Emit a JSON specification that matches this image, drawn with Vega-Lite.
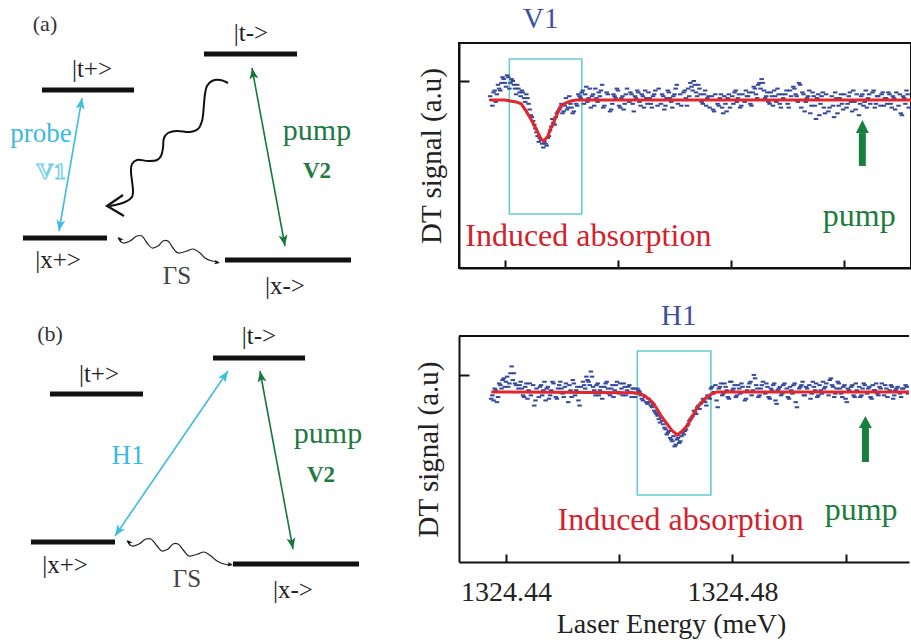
{
  "$schema": "https://vega.github.io/schema/vega-lite/v6.json",
  "padding": {"top": 4, "left": 0, "right": 0, "bottom": 0},
  "background": "white",
  "config": {
    "font": "Liberation Serif, DejaVu Serif, serif",
    "view": {"stroke": null},
    "title": {"fontWeight": "normal", "font": "Liberation Serif, DejaVu Serif, serif"},
    "text": {"font": "Liberation Serif, DejaVu Serif, serif"},
    "axis": {"grid": false, "domainColor": "#111", "domainWidth": 2, "tickColor": "#111", "tickWidth": 2, "labelColor": "#222", "titleColor": "#222", "titleFontWeight": "normal", "labelFont": "Liberation Serif, DejaVu Serif, serif", "titleFont": "Liberation Serif, DejaVu Serif, serif"}
  },
  "datasets": {
    "levels": [
      {"x": 204, "x2": 297, "y": 53}, {"x": 42, "x2": 134, "y": 89}, {"x": 23, "x2": 107, "y": 237}, {"x": 225, "x2": 351, "y": 259},
      {"x": 213, "x2": 305, "y": 357}, {"x": 50, "x2": 143, "y": 393}, {"x": 31, "x2": 115, "y": 541}, {"x": 233, "x2": 359, "y": 563}
    ],
    "shafts": [
      {"kind": "probe", "x": 82, "y": 97, "x2": 59, "y2": 230},
      {"kind": "pump", "x": 252, "y": 67, "x2": 285, "y2": 245},
      {"kind": "probe", "x": 228, "y": 370, "x2": 115, "y2": 535},
      {"kind": "pump", "x": 260, "y": 370, "x2": 293, "y2": 548}
    ],
    "heads": [
      {"kind": "probe", "x": 82, "y": 97, "angle": 9.5},
      {"kind": "probe", "x": 59, "y": 230, "angle": 189.5},
      {"kind": "pump", "x": 252, "y": 67, "angle": -10.4},
      {"kind": "pump", "x": 285, "y": 245, "angle": 169.6},
      {"kind": "probe", "x": 228, "y": 370, "angle": 34.5},
      {"kind": "probe", "x": 115, "y": 535, "angle": 214.5},
      {"kind": "pump", "x": 260, "y": 370, "angle": -10.6},
      {"kind": "pump", "x": 293, "y": 548, "angle": 169.4}
    ],
    "spinHeads": [
      {"x": 220, "y": 262, "angle": 100}, {"x": 118, "y": 236, "angle": -45},
      {"x": 233, "y": 564, "angle": 100}, {"x": 127, "y": 539, "angle": -45}
    ],
    "waves": [
      {"w": "relax", "o": 0, "x": 228, "y": 82}, {"w": "relax", "o": 1, "x": 220, "y": 79}, {"w": "relax", "o": 2, "x": 212, "y": 80},
      {"w": "relax", "o": 3, "x": 207, "y": 85}, {"w": "relax", "o": 4, "x": 205, "y": 93}, {"w": "relax", "o": 5, "x": 204, "y": 103},
      {"w": "relax", "o": 6, "x": 202, "y": 120}, {"w": "relax", "o": 7, "x": 198, "y": 128}, {"w": "relax", "o": 8, "x": 190, "y": 131},
      {"w": "relax", "o": 9, "x": 177, "y": 130}, {"w": "relax", "o": 10, "x": 168, "y": 132}, {"w": "relax", "o": 11, "x": 164, "y": 137},
      {"w": "relax", "o": 12, "x": 163, "y": 147}, {"w": "relax", "o": 13, "x": 161, "y": 155}, {"w": "relax", "o": 14, "x": 157, "y": 159},
      {"w": "relax", "o": 15, "x": 148, "y": 160}, {"w": "relax", "o": 16, "x": 137, "y": 159}, {"w": "relax", "o": 17, "x": 132, "y": 163},
      {"w": "relax", "o": 18, "x": 131, "y": 170}, {"w": "relax", "o": 19, "x": 132, "y": 180}, {"w": "relax", "o": 20, "x": 133, "y": 190},
      {"w": "relax", "o": 21, "x": 132, "y": 196}, {"w": "relax", "o": 22, "x": 125, "y": 201}, {"w": "relax", "o": 23, "x": 110, "y": 205},
      {"w": "spinA", "o": 0, "x": 118, "y": 237}, {"w": "spinA", "o": 1, "x": 123, "y": 242}, {"w": "spinA", "o": 2, "x": 130, "y": 240},
      {"w": "spinA", "o": 3, "x": 137, "y": 235}, {"w": "spinA", "o": 4, "x": 142, "y": 235}, {"w": "spinA", "o": 5, "x": 147, "y": 242},
      {"w": "spinA", "o": 6, "x": 152, "y": 247}, {"w": "spinA", "o": 7, "x": 158, "y": 245}, {"w": "spinA", "o": 8, "x": 163, "y": 240},
      {"w": "spinA", "o": 9, "x": 168, "y": 240}, {"w": "spinA", "o": 10, "x": 173, "y": 247}, {"w": "spinA", "o": 11, "x": 178, "y": 252},
      {"w": "spinA", "o": 12, "x": 187, "y": 250}, {"w": "spinA", "o": 13, "x": 193, "y": 248}, {"w": "spinA", "o": 14, "x": 200, "y": 252},
      {"w": "spinA", "o": 15, "x": 205, "y": 257}, {"w": "spinA", "o": 16, "x": 212, "y": 260}, {"w": "spinA", "o": 17, "x": 218, "y": 261},
      {"w": "spinB", "o": 0, "x": 127, "y": 540}, {"w": "spinB", "o": 1, "x": 132, "y": 545}, {"w": "spinB", "o": 2, "x": 139, "y": 543},
      {"w": "spinB", "o": 3, "x": 146, "y": 538}, {"w": "spinB", "o": 4, "x": 151, "y": 538}, {"w": "spinB", "o": 5, "x": 157, "y": 545},
      {"w": "spinB", "o": 6, "x": 162, "y": 550}, {"w": "spinB", "o": 7, "x": 168, "y": 548}, {"w": "spinB", "o": 8, "x": 173, "y": 543},
      {"w": "spinB", "o": 9, "x": 178, "y": 543}, {"w": "spinB", "o": 10, "x": 184, "y": 550}, {"w": "spinB", "o": 11, "x": 189, "y": 555},
      {"w": "spinB", "o": 12, "x": 198, "y": 553}, {"w": "spinB", "o": 13, "x": 204, "y": 551}, {"w": "spinB", "o": 14, "x": 211, "y": 555},
      {"w": "spinB", "o": 15, "x": 217, "y": 560}, {"w": "spinB", "o": 16, "x": 224, "y": 563}, {"w": "spinB", "o": 17, "x": 231, "y": 564}
    ],
    "relaxHead": [
      {"o": 0, "x": 123, "y": 194}, {"o": 1, "x": 107, "y": 205}, {"o": 2, "x": 124, "y": 215}
    ],
    "kets": [
      {"t": "|t->", "x": 251, "y": 32}, {"t": "|t+>", "x": 92, "y": 68}, {"t": "|x+>", "x": 58, "y": 259}, {"t": "|x->", "x": 285, "y": 285},
      {"t": "|t->", "x": 259, "y": 335}, {"t": "|t+>", "x": 99, "y": 373}, {"t": "|x+>", "x": 65, "y": 564}, {"t": "|x->", "x": 293, "y": 589}
    ],
    "tags": [{"t": "(a)", "x": 45, "y": 23}, {"t": "(b)", "x": 50, "y": 333}],
    "probeText": [{"t": "probe", "x": 41, "y": 133}, {"t": "H1", "x": 128, "y": 455}],
    "pumpText": [{"t": "pump", "x": 317, "y": 130}, {"t": "pump", "x": 328, "y": 433}],
    "v2Text": [{"t": "V2", "x": 317, "y": 170}, {"t": "V2", "x": 321, "y": 474}],
    "v1Text": [{"t": "V1", "x": 51, "y": 171}],
    "gammaText": [{"t": "ΓS", "x": 177, "y": 275}, {"t": "ΓS", "x": 187, "y": 578}],
    "v1": [
      {"e": 1324.4374, "s": 0.2}, {"e": 1324.4378, "s": -0.3}, {"e": 1324.4382, "s": 0.5}, {"e": 1324.4386, "s": 0.3}, {"e": 1324.439, "s": 0.6},
      {"e": 1324.4394, "s": 0.9}, {"e": 1324.4398, "s": 1.1}, {"e": 1324.4402, "s": 0.7}, {"e": 1324.4406, "s": 1.2}, {"e": 1324.441, "s": 0.9},
      {"e": 1324.4414, "s": 1.0}, {"e": 1324.4418, "s": 0.6}, {"e": 1324.4422, "s": 0.8}, {"e": 1324.4426, "s": 0.4}, {"e": 1324.443, "s": 0.5},
      {"e": 1324.4434, "s": 0.1}, {"e": 1324.4438, "s": 0.3}, {"e": 1324.4442, "s": -0.2}, {"e": 1324.4446, "s": -0.8}, {"e": 1324.445, "s": -1.1},
      {"e": 1324.4454, "s": -1.5}, {"e": 1324.4458, "s": -1.9}, {"e": 1324.4462, "s": -2.0}, {"e": 1324.4466, "s": -2.3}, {"e": 1324.447, "s": -2.2},
      {"e": 1324.4474, "s": -2.4}, {"e": 1324.4478, "s": -1.9}, {"e": 1324.4482, "s": -1.4}, {"e": 1324.4486, "s": -1.2}, {"e": 1324.449, "s": -0.9},
      {"e": 1324.4494, "s": -0.6}, {"e": 1324.4498, "s": -0.4}, {"e": 1324.4502, "s": -0.7}, {"e": 1324.4506, "s": -0.3}, {"e": 1324.451, "s": -0.5},
      {"e": 1324.4514, "s": 0.2}, {"e": 1324.4518, "s": -0.4}, {"e": 1324.4522, "s": -0.6}, {"e": 1324.4526, "s": -0.2}, {"e": 1324.453, "s": 0.3},
      {"e": 1324.4534, "s": 0.1}, {"e": 1324.4538, "s": 0.5}, {"e": 1324.4542, "s": 0.3}, {"e": 1324.4546, "s": -0.1}, {"e": 1324.455, "s": 0.6},
      {"e": 1324.4554, "s": 0.2}, {"e": 1324.4558, "s": -0.3}, {"e": 1324.4562, "s": 0.1}, {"e": 1324.4566, "s": 0.4}, {"e": 1324.457, "s": 0.5},
      {"e": 1324.4574, "s": -0.4}, {"e": 1324.4578, "s": 0.0}, {"e": 1324.4582, "s": 0.3}, {"e": 1324.4586, "s": -0.6}, {"e": 1324.459, "s": -0.2},
      {"e": 1324.4594, "s": 0.2}, {"e": 1324.4598, "s": 0.6}, {"e": 1324.4602, "s": -0.3}, {"e": 1324.4606, "s": 0.1}, {"e": 1324.461, "s": -0.5},
      {"e": 1324.4614, "s": 0.3}, {"e": 1324.4618, "s": 0.0}, {"e": 1324.4622, "s": 0.4}, {"e": 1324.4626, "s": -0.2}, {"e": 1324.463, "s": 0.2},
      {"e": 1324.4634, "s": 0.5}, {"e": 1324.4638, "s": -0.1}, {"e": 1324.4642, "s": 0.3}, {"e": 1324.4646, "s": -0.4}, {"e": 1324.465, "s": 0.1},
      {"e": 1324.4654, "s": 0.4}, {"e": 1324.4658, "s": -0.2}, {"e": 1324.4662, "s": 0.2}, {"e": 1324.4666, "s": 0.5}, {"e": 1324.467, "s": -0.3},
      {"e": 1324.4674, "s": 0.0}, {"e": 1324.4678, "s": 0.3}, {"e": 1324.4682, "s": -0.5}, {"e": 1324.4686, "s": 0.1}, {"e": 1324.469, "s": 0.4},
      {"e": 1324.4694, "s": -0.1}, {"e": 1324.4698, "s": 0.2}, {"e": 1324.4702, "s": 0.6}, {"e": 1324.4706, "s": -0.2}, {"e": 1324.471, "s": 0.3},
      {"e": 1324.4714, "s": 0.0}, {"e": 1324.4718, "s": 0.5}, {"e": 1324.4722, "s": -0.3}, {"e": 1324.4726, "s": 0.2}, {"e": 1324.473, "s": 0.7},
      {"e": 1324.4734, "s": 1.0}, {"e": 1324.4738, "s": 0.4}, {"e": 1324.4742, "s": 0.8}, {"e": 1324.4746, "s": 0.3}, {"e": 1324.475, "s": -0.2},
      {"e": 1324.4754, "s": 0.5}, {"e": 1324.4758, "s": 0.1}, {"e": 1324.4762, "s": -0.4}, {"e": 1324.4766, "s": 0.2}, {"e": 1324.477, "s": -0.6},
      {"e": 1324.4774, "s": 0.0}, {"e": 1324.4778, "s": -0.3}, {"e": 1324.4782, "s": 0.3}, {"e": 1324.4786, "s": -0.7}, {"e": 1324.479, "s": -0.2},
      {"e": 1324.4794, "s": 0.1}, {"e": 1324.4798, "s": -0.4}, {"e": 1324.4802, "s": 0.2}, {"e": 1324.4806, "s": 0.4}, {"e": 1324.481, "s": -0.1},
      {"e": 1324.4814, "s": 0.3}, {"e": 1324.4818, "s": -0.3}, {"e": 1324.4822, "s": 0.0}, {"e": 1324.4826, "s": 0.5}, {"e": 1324.483, "s": 0.2},
      {"e": 1324.4834, "s": -0.2}, {"e": 1324.4838, "s": 0.4}, {"e": 1324.4842, "s": 0.6}, {"e": 1324.4846, "s": 0.1}, {"e": 1324.485, "s": 0.9},
      {"e": 1324.4854, "s": 1.1}, {"e": 1324.4858, "s": 0.5}, {"e": 1324.4862, "s": 0.2}, {"e": 1324.4866, "s": -0.1}, {"e": 1324.487, "s": 0.4},
      {"e": 1324.4874, "s": -0.3}, {"e": 1324.4878, "s": 0.2}, {"e": 1324.4882, "s": 0.6}, {"e": 1324.4886, "s": -0.2}, {"e": 1324.489, "s": 0.3},
      {"e": 1324.4894, "s": 0.0}, {"e": 1324.4898, "s": 0.5}, {"e": 1324.4902, "s": -0.4}, {"e": 1324.4906, "s": 0.2}, {"e": 1324.491, "s": 0.7},
      {"e": 1324.4914, "s": 0.3}, {"e": 1324.4918, "s": -0.1}, {"e": 1324.4922, "s": 0.8}, {"e": 1324.4926, "s": 0.4}, {"e": 1324.493, "s": -0.6},
      {"e": 1324.4934, "s": 0.1}, {"e": 1324.4938, "s": 0.5}, {"e": 1324.4942, "s": -0.3}, {"e": 1324.4946, "s": 0.2}, {"e": 1324.495, "s": -1.0},
      {"e": 1324.4954, "s": 0.3}, {"e": 1324.4958, "s": -0.2}, {"e": 1324.4962, "s": 0.4}, {"e": 1324.4966, "s": -0.7}, {"e": 1324.497, "s": 0.0},
      {"e": 1324.4974, "s": -0.4}, {"e": 1324.4978, "s": 0.2}, {"e": 1324.4982, "s": -0.9}, {"e": 1324.4986, "s": 0.1}, {"e": 1324.499, "s": -0.3},
      {"e": 1324.4994, "s": 0.3}, {"e": 1324.4998, "s": -0.5}, {"e": 1324.5002, "s": 0.0}, {"e": 1324.5006, "s": -0.2}, {"e": 1324.501, "s": 0.4},
      {"e": 1324.5014, "s": -0.6}, {"e": 1324.5018, "s": -0.1}, {"e": 1324.5022, "s": 0.3}, {"e": 1324.5026, "s": -0.8}, {"e": 1324.503, "s": 0.2},
      {"e": 1324.5034, "s": -0.3}, {"e": 1324.5038, "s": 0.5}, {"e": 1324.5042, "s": 0.1}, {"e": 1324.5046, "s": -0.2}, {"e": 1324.505, "s": 0.4},
      {"e": 1324.5054, "s": -0.4}, {"e": 1324.5058, "s": 0.2}, {"e": 1324.5062, "s": 0.0}, {"e": 1324.5066, "s": 0.3}, {"e": 1324.507, "s": -0.3},
      {"e": 1324.5074, "s": 0.1}, {"e": 1324.5078, "s": 0.4}, {"e": 1324.5082, "s": -0.2}, {"e": 1324.5086, "s": 0.2}, {"e": 1324.509, "s": -0.5},
      {"e": 1324.5094, "s": 0.0}, {"e": 1324.5098, "s": 0.3}, {"e": 1324.5102, "s": -0.8}, {"e": 1324.5106, "s": 0.1}, {"e": 1324.511, "s": 0.5},
      {"e": 1324.5114, "s": -0.4},
      {"e": 1324.4376, "s": 0.0}, {"e": 1324.438, "s": 0.4}, {"e": 1324.4384, "s": -0.1}, {"e": 1324.4388, "s": 0.8}, {"e": 1324.4392, "s": 0.5},
      {"e": 1324.4396, "s": 1.2}, {"e": 1324.44, "s": 0.9}, {"e": 1324.4404, "s": 1.3}, {"e": 1324.4408, "s": 0.6}, {"e": 1324.4412, "s": 1.1},
      {"e": 1324.4416, "s": 0.8}, {"e": 1324.442, "s": 0.3}, {"e": 1324.4424, "s": 0.6}, {"e": 1324.4428, "s": 0.2}, {"e": 1324.4432, "s": 0.4},
      {"e": 1324.4436, "s": -0.1}, {"e": 1324.444, "s": 0.1}, {"e": 1324.4444, "s": -0.5}, {"e": 1324.4448, "s": -0.9}, {"e": 1324.4452, "s": -1.3},
      {"e": 1324.4456, "s": -1.7}, {"e": 1324.446, "s": -2.2}, {"e": 1324.4464, "s": -2.1}, {"e": 1324.4468, "s": -2.5}, {"e": 1324.4472, "s": -2.3},
      {"e": 1324.4476, "s": -2.0}, {"e": 1324.448, "s": -1.6}, {"e": 1324.4484, "s": -1.0}, {"e": 1324.4488, "s": -1.3}, {"e": 1324.4492, "s": -0.7},
      {"e": 1324.4496, "s": -0.5}, {"e": 1324.45, "s": -0.2}, {"e": 1324.4504, "s": -0.6}, {"e": 1324.4508, "s": 0.1}, {"e": 1324.4512, "s": -0.4},
      {"e": 1324.4516, "s": -0.2}, {"e": 1324.452, "s": -0.7}, {"e": 1324.4524, "s": 0.0}, {"e": 1324.4528, "s": -0.3}, {"e": 1324.4532, "s": 0.2},
      {"e": 1324.4536, "s": 0.4}, {"e": 1324.454, "s": -0.2}, {"e": 1324.4544, "s": 0.7}, {"e": 1324.4548, "s": 0.1}, {"e": 1324.4552, "s": -0.4},
      {"e": 1324.4556, "s": 0.3}, {"e": 1324.456, "s": 0.6}, {"e": 1324.4564, "s": -0.1}, {"e": 1324.4568, "s": 0.2}, {"e": 1324.4572, "s": 0.8},
      {"e": 1324.4576, "s": -0.3}, {"e": 1324.458, "s": 0.4}, {"e": 1324.4584, "s": 0.0}, {"e": 1324.4588, "s": -0.5}, {"e": 1324.4592, "s": 0.3},
      {"e": 1324.4596, "s": 0.1}, {"e": 1324.46, "s": 0.5}, {"e": 1324.4604, "s": -0.4}, {"e": 1324.4608, "s": 0.2}, {"e": 1324.4612, "s": -0.2},
      {"e": 1324.4616, "s": 0.6}, {"e": 1324.462, "s": -0.1}, {"e": 1324.4624, "s": 0.3}, {"e": 1324.4628, "s": -0.6}, {"e": 1324.4632, "s": 0.1},
      {"e": 1324.4636, "s": 0.4}, {"e": 1324.464, "s": -0.3}, {"e": 1324.4644, "s": 0.2}, {"e": 1324.4648, "s": 0.5}, {"e": 1324.4652, "s": -0.2},
      {"e": 1324.4656, "s": 0.1}, {"e": 1324.466, "s": -0.4}, {"e": 1324.4664, "s": 0.3}, {"e": 1324.4668, "s": 0.0}, {"e": 1324.4672, "s": 0.6},
      {"e": 1324.4676, "s": -0.2}, {"e": 1324.468, "s": 0.2}, {"e": 1324.4684, "s": -0.3}, {"e": 1324.4688, "s": 0.5}, {"e": 1324.4692, "s": 0.1},
      {"e": 1324.4696, "s": -0.4}, {"e": 1324.47, "s": 0.3}, {"e": 1324.4704, "s": 0.8}, {"e": 1324.4708, "s": 0.0}, {"e": 1324.4712, "s": -0.3},
      {"e": 1324.4716, "s": 0.4}, {"e": 1324.472, "s": 0.1}, {"e": 1324.4724, "s": 0.6}, {"e": 1324.4728, "s": 0.9}, {"e": 1324.4732, "s": 0.5},
      {"e": 1324.4736, "s": 0.8}, {"e": 1324.474, "s": 0.2}, {"e": 1324.4744, "s": 0.6}, {"e": 1324.4748, "s": -0.1}, {"e": 1324.4752, "s": 0.3},
      {"e": 1324.4756, "s": -0.3}, {"e": 1324.476, "s": 0.2}, {"e": 1324.4764, "s": 0.0}, {"e": 1324.4768, "s": -0.5}, {"e": 1324.4772, "s": 0.3},
      {"e": 1324.4776, "s": -0.2}, {"e": 1324.478, "s": 0.1}, {"e": 1324.4784, "s": -0.4}, {"e": 1324.4788, "s": 0.2}, {"e": 1324.4792, "s": -0.6},
      {"e": 1324.4796, "s": 0.3}, {"e": 1324.48, "s": 0.0}, {"e": 1324.4804, "s": -0.2}, {"e": 1324.4808, "s": 0.5}, {"e": 1324.4812, "s": 0.1},
      {"e": 1324.4816, "s": -0.4}, {"e": 1324.482, "s": 0.3}, {"e": 1324.4824, "s": -0.1}, {"e": 1324.4828, "s": 0.2}, {"e": 1324.4832, "s": 0.4},
      {"e": 1324.4836, "s": -0.3}, {"e": 1324.484, "s": 0.7}, {"e": 1324.4844, "s": 0.3}, {"e": 1324.4848, "s": 0.8}, {"e": 1324.4852, "s": 0.6},
      {"e": 1324.4856, "s": 0.9}, {"e": 1324.486, "s": 0.1}, {"e": 1324.4864, "s": 0.4}, {"e": 1324.4868, "s": -0.2}, {"e": 1324.4872, "s": 0.2},
      {"e": 1324.4876, "s": 0.5}, {"e": 1324.488, "s": -0.1}, {"e": 1324.4884, "s": 0.3}, {"e": 1324.4888, "s": -0.4}, {"e": 1324.4892, "s": 0.1},
      {"e": 1324.4896, "s": 0.3}, {"e": 1324.49, "s": -0.2}, {"e": 1324.4904, "s": 0.5}, {"e": 1324.4908, "s": 0.0}, {"e": 1324.4912, "s": 0.6},
      {"e": 1324.4916, "s": 0.2}, {"e": 1324.492, "s": 0.9}, {"e": 1324.4924, "s": -0.4}, {"e": 1324.4928, "s": 0.3}, {"e": 1324.4932, "s": -0.1},
      {"e": 1324.4936, "s": 0.2}, {"e": 1324.494, "s": -0.7}, {"e": 1324.4944, "s": 0.4}, {"e": 1324.4948, "s": -0.3}, {"e": 1324.4952, "s": 0.1},
      {"e": 1324.4956, "s": -0.8}, {"e": 1324.496, "s": 0.2}, {"e": 1324.4964, "s": -0.4}, {"e": 1324.4968, "s": 0.3}, {"e": 1324.4972, "s": -0.6},
      {"e": 1324.4976, "s": 0.0}, {"e": 1324.498, "s": -0.3}, {"e": 1324.4984, "s": 0.4}, {"e": 1324.4988, "s": -0.7}, {"e": 1324.4992, "s": 0.1},
      {"e": 1324.4996, "s": -0.2}, {"e": 1324.5, "s": 0.3}, {"e": 1324.5004, "s": -0.4}, {"e": 1324.5008, "s": 0.2}, {"e": 1324.5012, "s": -0.1},
      {"e": 1324.5016, "s": 0.5}, {"e": 1324.502, "s": -0.5}, {"e": 1324.5024, "s": 0.0}, {"e": 1324.5028, "s": -0.2}, {"e": 1324.5032, "s": 0.3},
      {"e": 1324.5036, "s": -0.1}, {"e": 1324.504, "s": -0.4}, {"e": 1324.5044, "s": 0.3}, {"e": 1324.5048, "s": 0.0}, {"e": 1324.5052, "s": 0.5},
      {"e": 1324.5056, "s": -0.2}, {"e": 1324.506, "s": 0.2}, {"e": 1324.5064, "s": -0.3}, {"e": 1324.5068, "s": 0.4}, {"e": 1324.5072, "s": 0.1},
      {"e": 1324.5076, "s": -0.2}, {"e": 1324.508, "s": 0.3}, {"e": 1324.5084, "s": -0.4}, {"e": 1324.5088, "s": 0.1}, {"e": 1324.5092, "s": 0.4},
      {"e": 1324.5096, "s": -0.3}, {"e": 1324.51, "s": -0.7}, {"e": 1324.5104, "s": 0.2}, {"e": 1324.5108, "s": -0.2}, {"e": 1324.5112, "s": 0.3}
    ],
    "v1fit": [
      {"e": 1324.4374, "s": 0}, {"e": 1324.44, "s": 0}, {"e": 1324.441, "s": -0.05}, {"e": 1324.442, "s": -0.1}, {"e": 1324.4429, "s": -0.2},
      {"e": 1324.4438, "s": -0.6}, {"e": 1324.4446, "s": -1.0}, {"e": 1324.4455, "s": -1.5}, {"e": 1324.4464, "s": -2.05}, {"e": 1324.4469, "s": -2.16},
      {"e": 1324.4476, "s": -1.9}, {"e": 1324.4482, "s": -1.45}, {"e": 1324.4491, "s": -0.85}, {"e": 1324.4499, "s": -0.3}, {"e": 1324.4508, "s": -0.15},
      {"e": 1324.4517, "s": -0.05}, {"e": 1324.4526, "s": 0}, {"e": 1324.5118, "s": 0}
    ],
    "h1": [
      {"e": 1324.4374, "s": -0.4}, {"e": 1324.4378, "s": -0.5}, {"e": 1324.4382, "s": 0.1}, {"e": 1324.4386, "s": -0.3}, {"e": 1324.439, "s": 0.4},
      {"e": 1324.4394, "s": 0.7}, {"e": 1324.4398, "s": 0.3}, {"e": 1324.4402, "s": 0.9}, {"e": 1324.4406, "s": 0.5}, {"e": 1324.441, "s": 1.5},
      {"e": 1324.4414, "s": 1.1}, {"e": 1324.4418, "s": 0.4}, {"e": 1324.4422, "s": 0.2}, {"e": 1324.4426, "s": 0.6}, {"e": 1324.443, "s": -0.2},
      {"e": 1324.4434, "s": 0.3}, {"e": 1324.4438, "s": -0.4}, {"e": 1324.4442, "s": 0.5}, {"e": 1324.4446, "s": 0.0}, {"e": 1324.445, "s": -0.8},
      {"e": 1324.4454, "s": 0.2}, {"e": 1324.4458, "s": -0.3}, {"e": 1324.4462, "s": 0.4}, {"e": 1324.4466, "s": 0.1}, {"e": 1324.447, "s": -0.5},
      {"e": 1324.4474, "s": 0.3}, {"e": 1324.4478, "s": -0.2}, {"e": 1324.4482, "s": 0.6}, {"e": 1324.4486, "s": 0.0}, {"e": 1324.449, "s": -0.4},
      {"e": 1324.4494, "s": 0.4}, {"e": 1324.4498, "s": 0.2}, {"e": 1324.4502, "s": -0.3}, {"e": 1324.4506, "s": 0.5}, {"e": 1324.451, "s": -0.6},
      {"e": 1324.4514, "s": 0.1}, {"e": 1324.4518, "s": 0.7}, {"e": 1324.4522, "s": -0.2}, {"e": 1324.4526, "s": 0.3}, {"e": 1324.453, "s": -0.8},
      {"e": 1324.4534, "s": 0.0}, {"e": 1324.4538, "s": 0.4}, {"e": 1324.4542, "s": 0.9}, {"e": 1324.4546, "s": 0.6}, {"e": 1324.455, "s": 1.2},
      {"e": 1324.4554, "s": 0.3}, {"e": 1324.4558, "s": -0.2}, {"e": 1324.4562, "s": 0.5}, {"e": 1324.4566, "s": 0.1}, {"e": 1324.457, "s": -0.4},
      {"e": 1324.4574, "s": 0.3}, {"e": 1324.4578, "s": 0.6}, {"e": 1324.4582, "s": -0.1}, {"e": 1324.4586, "s": 0.2}, {"e": 1324.459, "s": -0.3},
      {"e": 1324.4594, "s": 0.4}, {"e": 1324.4598, "s": 0.0}, {"e": 1324.4602, "s": 0.5}, {"e": 1324.4606, "s": -0.2}, {"e": 1324.461, "s": 0.3},
      {"e": 1324.4614, "s": 0.1}, {"e": 1324.4618, "s": 0.4}, {"e": 1324.4622, "s": -0.3}, {"e": 1324.4626, "s": 0.2}, {"e": 1324.463, "s": -0.1},
      {"e": 1324.4634, "s": 0.1}, {"e": 1324.4638, "s": -0.2}, {"e": 1324.4642, "s": -0.5}, {"e": 1324.4646, "s": -0.3}, {"e": 1324.465, "s": -0.7},
      {"e": 1324.4654, "s": -0.6}, {"e": 1324.4658, "s": -0.9}, {"e": 1324.4662, "s": -1.1}, {"e": 1324.4666, "s": -1.3}, {"e": 1324.467, "s": -1.6},
      {"e": 1324.4674, "s": -1.5}, {"e": 1324.4678, "s": -1.9}, {"e": 1324.4682, "s": -2.2}, {"e": 1324.4686, "s": -2.4}, {"e": 1324.469, "s": -2.7},
      {"e": 1324.4694, "s": -2.9}, {"e": 1324.4698, "s": -3.2}, {"e": 1324.4702, "s": -2.8}, {"e": 1324.4706, "s": -3.0}, {"e": 1324.471, "s": -2.6},
      {"e": 1324.4714, "s": -2.5}, {"e": 1324.4718, "s": -2.2}, {"e": 1324.4722, "s": -1.9}, {"e": 1324.4726, "s": -1.6}, {"e": 1324.473, "s": -1.4},
      {"e": 1324.4734, "s": -1.2}, {"e": 1324.4738, "s": -0.9}, {"e": 1324.4742, "s": -1.0}, {"e": 1324.4746, "s": -0.6}, {"e": 1324.475, "s": -0.5},
      {"e": 1324.4754, "s": -0.8}, {"e": 1324.4758, "s": -0.3}, {"e": 1324.4762, "s": 0.2}, {"e": 1324.4766, "s": -0.1}, {"e": 1324.477, "s": 0.4},
      {"e": 1324.4774, "s": -0.9}, {"e": 1324.4778, "s": 0.3}, {"e": 1324.4782, "s": -0.2}, {"e": 1324.4786, "s": 0.5}, {"e": 1324.479, "s": 0.1},
      {"e": 1324.4794, "s": -0.4}, {"e": 1324.4798, "s": 0.6}, {"e": 1324.4802, "s": 0.2}, {"e": 1324.4806, "s": -0.3}, {"e": 1324.481, "s": 0.4},
      {"e": 1324.4814, "s": -0.1}, {"e": 1324.4818, "s": 0.3}, {"e": 1324.4822, "s": -0.5}, {"e": 1324.4826, "s": 0.1}, {"e": 1324.483, "s": 0.5},
      {"e": 1324.4834, "s": -0.2}, {"e": 1324.4838, "s": 1.0}, {"e": 1324.4842, "s": 0.4}, {"e": 1324.4846, "s": -0.3}, {"e": 1324.485, "s": 0.2},
      {"e": 1324.4854, "s": 0.6}, {"e": 1324.4858, "s": -0.1}, {"e": 1324.4862, "s": 0.3}, {"e": 1324.4866, "s": -0.4}, {"e": 1324.487, "s": 0.1},
      {"e": 1324.4874, "s": 0.5}, {"e": 1324.4878, "s": -0.7}, {"e": 1324.4882, "s": 0.2}, {"e": 1324.4886, "s": -0.2}, {"e": 1324.489, "s": 0.4},
      {"e": 1324.4894, "s": 0.0}, {"e": 1324.4898, "s": -0.3}, {"e": 1324.4902, "s": 0.3}, {"e": 1324.4906, "s": -0.1}, {"e": 1324.491, "s": 0.5},
      {"e": 1324.4914, "s": -0.9}, {"e": 1324.4918, "s": 0.2}, {"e": 1324.4922, "s": 0.4}, {"e": 1324.4926, "s": -0.2}, {"e": 1324.493, "s": 0.3},
      {"e": 1324.4934, "s": 0.0}, {"e": 1324.4938, "s": -0.4}, {"e": 1324.4942, "s": 0.6}, {"e": 1324.4946, "s": 0.1}, {"e": 1324.495, "s": -0.3},
      {"e": 1324.4954, "s": 0.4}, {"e": 1324.4958, "s": -0.1}, {"e": 1324.4962, "s": 0.2}, {"e": 1324.4966, "s": 0.5}, {"e": 1324.497, "s": -0.2},
      {"e": 1324.4974, "s": 0.8}, {"e": 1324.4978, "s": 0.3}, {"e": 1324.4982, "s": -0.1}, {"e": 1324.4986, "s": 0.6}, {"e": 1324.499, "s": 0.2},
      {"e": 1324.4994, "s": -0.3}, {"e": 1324.4998, "s": 0.4}, {"e": 1324.5002, "s": -0.6}, {"e": 1324.5006, "s": 0.1}, {"e": 1324.501, "s": 0.3},
      {"e": 1324.5014, "s": -0.2}, {"e": 1324.5018, "s": 0.5}, {"e": 1324.5022, "s": 0.0}, {"e": 1324.5026, "s": -0.3}, {"e": 1324.503, "s": 0.2},
      {"e": 1324.5034, "s": 0.4}, {"e": 1324.5038, "s": -0.1}, {"e": 1324.5042, "s": 0.3}, {"e": 1324.5046, "s": -0.4}, {"e": 1324.505, "s": 0.1},
      {"e": 1324.5054, "s": 0.5}, {"e": 1324.5058, "s": -0.2}, {"e": 1324.5062, "s": 0.2}, {"e": 1324.5066, "s": 0.0}, {"e": 1324.507, "s": 0.4},
      {"e": 1324.5074, "s": -0.3}, {"e": 1324.5078, "s": 0.1}, {"e": 1324.5082, "s": 0.3}, {"e": 1324.5086, "s": -0.2}, {"e": 1324.509, "s": 0.2},
      {"e": 1324.5094, "s": 0.0}, {"e": 1324.5098, "s": -0.3}, {"e": 1324.5102, "s": 0.2}, {"e": 1324.5106, "s": 0.4}, {"e": 1324.511, "s": -0.1},
      {"e": 1324.4376, "s": -0.2}, {"e": 1324.438, "s": 0.2}, {"e": 1324.4384, "s": -0.6}, {"e": 1324.4388, "s": 0.5}, {"e": 1324.4392, "s": 0.2},
      {"e": 1324.4396, "s": 0.8}, {"e": 1324.44, "s": 0.6}, {"e": 1324.4404, "s": 0.3}, {"e": 1324.4408, "s": 1.1}, {"e": 1324.4412, "s": 0.7},
      {"e": 1324.4416, "s": 0.5}, {"e": 1324.442, "s": 0.0}, {"e": 1324.4424, "s": 0.4}, {"e": 1324.4428, "s": 0.2}, {"e": 1324.4432, "s": -0.3},
      {"e": 1324.4436, "s": 0.5}, {"e": 1324.444, "s": 0.1}, {"e": 1324.4444, "s": -0.2}, {"e": 1324.4448, "s": 0.4}, {"e": 1324.4452, "s": -0.5},
      {"e": 1324.4456, "s": 0.0}, {"e": 1324.446, "s": 0.3}, {"e": 1324.4464, "s": -0.2}, {"e": 1324.4468, "s": 0.6}, {"e": 1324.4472, "s": 0.2},
      {"e": 1324.4476, "s": -0.4}, {"e": 1324.448, "s": 0.1}, {"e": 1324.4484, "s": 0.5}, {"e": 1324.4488, "s": -0.3}, {"e": 1324.4492, "s": 0.2},
      {"e": 1324.4496, "s": 0.6}, {"e": 1324.45, "s": -0.1}, {"e": 1324.4504, "s": 0.3}, {"e": 1324.4508, "s": 0.0}, {"e": 1324.4512, "s": 0.4},
      {"e": 1324.4516, "s": -0.3}, {"e": 1324.452, "s": 0.5}, {"e": 1324.4524, "s": 0.1}, {"e": 1324.4528, "s": -0.5}, {"e": 1324.4532, "s": 0.3},
      {"e": 1324.4536, "s": 0.6}, {"e": 1324.454, "s": 0.2}, {"e": 1324.4544, "s": 0.7}, {"e": 1324.4548, "s": 0.4}, {"e": 1324.4552, "s": 0.9},
      {"e": 1324.4556, "s": 0.1}, {"e": 1324.456, "s": 0.4}, {"e": 1324.4564, "s": -0.2}, {"e": 1324.4568, "s": 0.3}, {"e": 1324.4572, "s": 0.0},
      {"e": 1324.4576, "s": 0.5}, {"e": 1324.458, "s": 0.2}, {"e": 1324.4584, "s": -0.2}, {"e": 1324.4588, "s": 0.4}, {"e": 1324.4592, "s": 0.1},
      {"e": 1324.4596, "s": 0.6}, {"e": 1324.46, "s": -0.1}, {"e": 1324.4604, "s": 0.2}, {"e": 1324.4608, "s": 0.5}, {"e": 1324.4612, "s": -0.2},
      {"e": 1324.4616, "s": 0.3}, {"e": 1324.462, "s": 0.0}, {"e": 1324.4624, "s": 0.2}, {"e": 1324.4628, "s": -0.3}, {"e": 1324.4632, "s": 0.2},
      {"e": 1324.4636, "s": 0.0}, {"e": 1324.464, "s": -0.4}, {"e": 1324.4644, "s": -0.2}, {"e": 1324.4648, "s": -0.6}, {"e": 1324.4652, "s": -0.4},
      {"e": 1324.4656, "s": -0.8}, {"e": 1324.466, "s": -0.7}, {"e": 1324.4664, "s": -1.2}, {"e": 1324.4668, "s": -1.4}, {"e": 1324.4672, "s": -1.8},
      {"e": 1324.4676, "s": -1.7}, {"e": 1324.468, "s": -2.1}, {"e": 1324.4684, "s": -2.5}, {"e": 1324.4688, "s": -2.3}, {"e": 1324.4692, "s": -2.8},
      {"e": 1324.4696, "s": -2.6}, {"e": 1324.47, "s": -3.1}, {"e": 1324.4704, "s": -2.7}, {"e": 1324.4708, "s": -2.9}, {"e": 1324.4712, "s": -2.4},
      {"e": 1324.4716, "s": -2.3}, {"e": 1324.472, "s": -2.0}, {"e": 1324.4724, "s": -1.7}, {"e": 1324.4728, "s": -1.5}, {"e": 1324.4732, "s": -1.1},
      {"e": 1324.4736, "s": -1.3}, {"e": 1324.474, "s": -0.8}, {"e": 1324.4744, "s": -0.7}, {"e": 1324.4748, "s": -0.4}, {"e": 1324.4752, "s": -0.6},
      {"e": 1324.4756, "s": -0.2}, {"e": 1324.476, "s": -0.4}, {"e": 1324.4764, "s": 0.3}, {"e": 1324.4768, "s": 0.0}, {"e": 1324.4772, "s": -0.5},
      {"e": 1324.4776, "s": 0.2}, {"e": 1324.478, "s": 0.5}, {"e": 1324.4784, "s": -0.1}, {"e": 1324.4788, "s": 0.3}, {"e": 1324.4792, "s": -0.3},
      {"e": 1324.4796, "s": 0.6}, {"e": 1324.48, "s": 0.1}, {"e": 1324.4804, "s": 0.4}, {"e": 1324.4808, "s": -0.2}, {"e": 1324.4812, "s": 0.2},
      {"e": 1324.4816, "s": 0.5}, {"e": 1324.482, "s": 0.0}, {"e": 1324.4824, "s": -0.4}, {"e": 1324.4828, "s": 0.3}, {"e": 1324.4832, "s": 0.6},
      {"e": 1324.4836, "s": 0.1}, {"e": 1324.484, "s": 0.8}, {"e": 1324.4844, "s": 0.2}, {"e": 1324.4848, "s": -0.2}, {"e": 1324.4852, "s": 0.4},
      {"e": 1324.4856, "s": 0.0}, {"e": 1324.486, "s": 0.5}, {"e": 1324.4864, "s": -0.3}, {"e": 1324.4868, "s": 0.2}, {"e": 1324.4872, "s": 0.4},
      {"e": 1324.4876, "s": -0.5}, {"e": 1324.488, "s": 0.1}, {"e": 1324.4884, "s": 0.3}, {"e": 1324.4888, "s": -0.1}, {"e": 1324.4892, "s": 0.5},
      {"e": 1324.4896, "s": 0.2}, {"e": 1324.49, "s": -0.4}, {"e": 1324.4904, "s": 0.1}, {"e": 1324.4908, "s": 0.4}, {"e": 1324.4912, "s": -0.6},
      {"e": 1324.4916, "s": 0.0}, {"e": 1324.492, "s": 0.3}, {"e": 1324.4924, "s": 0.6}, {"e": 1324.4928, "s": -0.2}, {"e": 1324.4932, "s": 0.2},
      {"e": 1324.4936, "s": 0.4}, {"e": 1324.494, "s": -0.1}, {"e": 1324.4944, "s": 0.3}, {"e": 1324.4948, "s": 0.5}, {"e": 1324.4952, "s": -0.2},
      {"e": 1324.4956, "s": 0.1}, {"e": 1324.496, "s": 0.6}, {"e": 1324.4964, "s": 0.3}, {"e": 1324.4968, "s": 0.0}, {"e": 1324.4972, "s": 0.7},
      {"e": 1324.4976, "s": 0.4}, {"e": 1324.498, "s": -0.3}, {"e": 1324.4984, "s": 0.2}, {"e": 1324.4988, "s": 0.5}, {"e": 1324.4992, "s": -0.1},
      {"e": 1324.4996, "s": 0.3}, {"e": 1324.5, "s": -0.4}, {"e": 1324.5004, "s": 0.2}, {"e": 1324.5008, "s": 0.0}, {"e": 1324.5012, "s": 0.4},
      {"e": 1324.5016, "s": -0.3}, {"e": 1324.502, "s": 0.1}, {"e": 1324.5024, "s": 0.3}, {"e": 1324.5028, "s": -0.2}, {"e": 1324.5032, "s": 0.5},
      {"e": 1324.5036, "s": 0.0}, {"e": 1324.504, "s": 0.2}, {"e": 1324.5044, "s": -0.3}, {"e": 1324.5048, "s": 0.4}, {"e": 1324.5052, "s": 0.1},
      {"e": 1324.5056, "s": -0.1}, {"e": 1324.506, "s": 0.3}, {"e": 1324.5064, "s": 0.5}, {"e": 1324.5068, "s": -0.2}, {"e": 1324.5072, "s": 0.2},
      {"e": 1324.5076, "s": 0.0}, {"e": 1324.508, "s": 0.4}, {"e": 1324.5084, "s": -0.4}, {"e": 1324.5088, "s": 0.1}, {"e": 1324.5092, "s": 0.3},
      {"e": 1324.5096, "s": -0.1}, {"e": 1324.51, "s": 0.2}, {"e": 1324.5104, "s": 0.0}, {"e": 1324.5108, "s": 0.3}
    ],
    "h1fit": [
      {"e": 1324.4374, "s": 0}, {"e": 1324.4632, "s": -0.05}, {"e": 1324.4641, "s": -0.15}, {"e": 1324.465, "s": -0.35}, {"e": 1324.4659, "s": -0.6},
      {"e": 1324.4667, "s": -1.0}, {"e": 1324.4676, "s": -1.5}, {"e": 1324.4685, "s": -1.9}, {"e": 1324.4694, "s": -2.3}, {"e": 1324.4703, "s": -2.53},
      {"e": 1324.4711, "s": -2.3}, {"e": 1324.472, "s": -2.0}, {"e": 1324.4729, "s": -1.45}, {"e": 1324.4738, "s": -0.9}, {"e": 1324.4747, "s": -0.55},
      {"e": 1324.4755, "s": -0.3}, {"e": 1324.4764, "s": -0.1}, {"e": 1324.4773, "s": 0}, {"e": 1324.5112, "s": 0}
    ]
  },
  "hconcat": [
    {
      "width": 400,
      "height": 600,
      "view": {"stroke": null},
      "encoding": {
        "x": {"field": "x", "type": "quantitative", "scale": {"domain": [0, 400], "nice": false, "zero": false}, "axis": null},
        "y": {"field": "y", "type": "quantitative", "scale": {"domain": [42, 642], "nice": false, "zero": false, "reverse": true}, "axis": null}
      },
      "layer": [
        {"data": {"name": "levels"}, "mark": {"type": "rule", "strokeWidth": 5, "color": "#111"}, "encoding": {"x2": {"field": "x2"}}},
        {
          "data": {"name": "shafts"},
          "mark": {"type": "rule", "strokeWidth": 1.6},
          "encoding": {
            "x2": {"field": "x2"}, "y2": {"field": "y2"},
            "color": {"field": "kind", "type": "nominal", "scale": {"domain": ["probe", "pump"], "range": ["#3dbde0", "#18773d"]}, "legend": null}
          }
        },
        {
          "data": {"name": "heads"},
          "mark": {"type": "point", "shape": "M0,0L-0.4,1L0,0.75L0.4,1Z", "filled": true, "opacity": 1, "size": 500},
          "encoding": {
            "angle": {"field": "angle", "type": "quantitative", "scale": null},
            "color": {"field": "kind", "type": "nominal", "scale": {"domain": ["probe", "pump"], "range": ["#3dbde0", "#18773d"]}, "legend": null}
          }
        },
        {
          "data": {"name": "waves"},
          "transform": [{"filter": "datum.w == 'relax'"}],
          "mark": {"type": "line", "color": "#111", "strokeWidth": 2, "interpolate": "catmull-rom"},
          "encoding": {"order": {"field": "o", "type": "quantitative"}}
        },
        {
          "data": {"name": "relaxHead"},
          "mark": {"type": "line", "color": "#111", "strokeWidth": 2.2},
          "encoding": {"order": {"field": "o", "type": "quantitative"}}
        },
        {
          "data": {"name": "waves"},
          "transform": [{"filter": "datum.w != 'relax'"}],
          "mark": {"type": "line", "color": "#222", "strokeWidth": 1.2, "interpolate": "catmull-rom"},
          "encoding": {"detail": {"field": "w", "type": "nominal"}, "order": {"field": "o", "type": "quantitative"}}
        },
        {
          "data": {"name": "spinHeads"},
          "mark": {"type": "point", "shape": "M0,0L-0.4,1L0,0.75L0.4,1Z", "filled": true, "opacity": 1, "size": 130, "color": "#111"},
          "encoding": {"angle": {"field": "angle", "type": "quantitative", "scale": null}}
        },
        {"data": {"name": "kets"}, "mark": {"type": "text", "fontSize": 25, "color": "#222", "align": "center", "baseline": "middle"}, "encoding": {"text": {"field": "t"}}},
        {"data": {"name": "tags"}, "mark": {"type": "text", "fontSize": 22, "color": "#333", "align": "center", "baseline": "middle"}, "encoding": {"text": {"field": "t"}}},
        {"data": {"name": "probeText"}, "mark": {"type": "text", "fontSize": 27, "color": "#3bb9df", "align": "center", "baseline": "middle"}, "encoding": {"text": {"field": "t"}}},
        {"data": {"name": "pumpText"}, "mark": {"type": "text", "fontSize": 30, "color": "#1d7a42", "align": "center", "baseline": "middle"}, "encoding": {"text": {"field": "t"}}},
        {"data": {"name": "v2Text"}, "mark": {"type": "text", "fontSize": 23, "fontWeight": "bold", "color": "#1d7a42", "align": "center", "baseline": "middle"}, "encoding": {"text": {"field": "t"}}},
        {"data": {"name": "v1Text"}, "mark": {"type": "text", "fontSize": 24, "fontWeight": "bold", "fill": "#e3f6fb", "stroke": "#6fcde6", "strokeWidth": 1.2, "align": "center", "baseline": "middle"}, "encoding": {"text": {"field": "t"}}},
        {"data": {"name": "gammaText"}, "mark": {"type": "text", "fontSize": 25, "color": "#444", "align": "center", "baseline": "middle"}, "encoding": {"text": {"field": "t"}}}
      ]
    },
    {
      "spacing": 32,
      "vconcat": [
        {
          "width": 452,
          "height": 225,
          "title": {"text": "V1", "anchor": "start", "frame": "group", "dx": 64, "fontSize": 29, "color": "#3c50a2", "offset": 9},
          "view": {"stroke": "#111", "strokeWidth": 2},
          "encoding": {
            "x": {
              "field": "e", "type": "quantitative",
              "scale": {"domain": [1324.4319, 1324.5118], "nice": false, "zero": false},
              "axis": {"values": [1324.44, 1324.46, 1324.48, 1324.5], "labels": false, "title": null, "tickSize": -8}
            },
            "y": {
              "field": "s", "type": "quantitative",
              "scale": {"domain": [-8.84, 3.0], "nice": false, "zero": false},
              "axis": {"values": [1], "labels": false, "tickSize": -10, "title": "DT signal (a.u)", "titleFontSize": 29, "titlePadding": 12}
            }
          },
          "layer": [
            {
              "data": {"values": [{"e": 1324.4408, "e2": 1324.4536, "s": 2.16, "s2": -6.0}]},
              "mark": {"type": "rect", "filled": false, "stroke": "#67cdd2", "strokeWidth": 1.6},
              "encoding": {"x2": {"field": "e2"}, "y2": {"field": "s2"}}
            },
            {
              "data": {"name": "v1"},
              "mark": {"type": "point", "shape": "M-1,-0.45H1V0.45H-1Z", "filled": true, "opacity": 1, "size": 20, "color": "#34489c", "clip": true}
            },
            {"data": {"name": "v1fit"}, "mark": {"type": "line", "color": "#e3262c", "strokeWidth": 3, "clip": true}},
            {
              "data": {"values": [{"e": 1324.433, "s": -7.68, "label": "Induced absorption"}]},
              "mark": {"type": "text", "align": "left", "baseline": "alphabetic", "fontSize": 32, "color": "#d3222c"},
              "encoding": {"text": {"field": "label"}}
            },
            {
              "data": {"values": [{"e": 1324.4962, "s": -6.63, "label": "pump"}]},
              "mark": {"type": "text", "align": "left", "baseline": "alphabetic", "fontSize": 32, "color": "#1b7c3e"},
              "encoding": {"text": {"field": "label"}}
            },
            {
              "data": {"values": [{"e": 1324.5032, "s": -3.47, "s2": -1.74}]},
              "mark": {"type": "rule", "strokeWidth": 7, "color": "#17803f"},
              "encoding": {"y2": {"field": "s2"}}
            },
            {
              "data": {"values": [{"e": 1324.5032, "s": -1.05}]},
              "mark": {"type": "point", "shape": "M0,0L-0.5,1L0.5,1Z", "filled": true, "opacity": 1, "size": 676, "color": "#17803f"}
            }
          ]
        },
        {
          "width": 450,
          "height": 226,
          "title": {"text": "H1", "anchor": "start", "frame": "group", "dx": 202, "fontSize": 29, "color": "#3c50a2", "offset": 4},
          "view": {"stroke": null},
          "encoding": {
            "x": {
              "field": "e", "type": "quantitative",
              "scale": {"domain": [1324.4317, 1324.5112], "nice": false, "zero": false},
              "axis": {
                "values": [1324.44, 1324.46, 1324.48, 1324.5], "format": ".2f",
                "labelExpr": "datum.label == '1324.46' || datum.label == '1324.50' ? '' : datum.label",
                "tickSize": -8, "labelPadding": 24, "labelFontSize": 28,
                "title": "Laser Energy (meV)", "titleFontSize": 28, "titlePadding": 4, "titleX": 212
              }
            },
            "y": {
              "field": "s", "type": "quantitative",
              "scale": {"domain": [-10.0, 3.29], "nice": false, "zero": false},
              "axis": {"values": [1], "labels": false, "tickSize": -10, "title": "DT signal (a.u)", "titleFontSize": 29, "titlePadding": 15}
            }
          },
          "layer": [
            {
              "data": {"values": [{"e": 1324.4317, "e2": 1324.5112, "s": 3.29}]},
              "mark": {"type": "rule", "strokeWidth": 2, "color": "#111"},
              "encoding": {"x2": {"field": "e2"}}
            },
            {
              "data": {"values": [{"e": 1324.4632, "e2": 1324.4762, "s": 2.41, "s2": -6.06}]},
              "mark": {"type": "rect", "filled": false, "stroke": "#67cdd2", "strokeWidth": 1.6},
              "encoding": {"x2": {"field": "e2"}, "y2": {"field": "s2"}}
            },
            {
              "data": {"name": "h1"},
              "mark": {"type": "point", "shape": "M-1,-0.45H1V0.45H-1Z", "filled": true, "opacity": 1, "size": 20, "color": "#34489c", "clip": true}
            },
            {"data": {"name": "h1fit"}, "mark": {"type": "line", "color": "#e3262c", "strokeWidth": 3, "clip": true}},
            {
              "data": {"values": [{"e": 1324.4491, "s": -8.12, "label": "Induced absorption"}]},
              "mark": {"type": "text", "align": "left", "baseline": "alphabetic", "fontSize": 32, "color": "#d3222c"},
              "encoding": {"text": {"field": "label"}}
            },
            {
              "data": {"values": [{"e": 1324.4963, "s": -7.53, "label": "pump"}]},
              "mark": {"type": "text", "align": "left", "baseline": "alphabetic", "fontSize": 32, "color": "#1b7c3e"},
              "encoding": {"text": {"field": "label"}}
            },
            {
              "data": {"values": [{"e": 1324.5035, "s": -4.12, "s2": -2.12}]},
              "mark": {"type": "rule", "strokeWidth": 7, "color": "#17803f"},
              "encoding": {"y2": {"field": "s2"}}
            },
            {
              "data": {"values": [{"e": 1324.5035, "s": -1.41}]},
              "mark": {"type": "point", "shape": "M0,0L-0.54,1L0.54,1Z", "filled": true, "opacity": 1, "size": 576, "color": "#17803f"}
            }
          ]
        }
      ]
    }
  ],
  "spacing": 14
}
